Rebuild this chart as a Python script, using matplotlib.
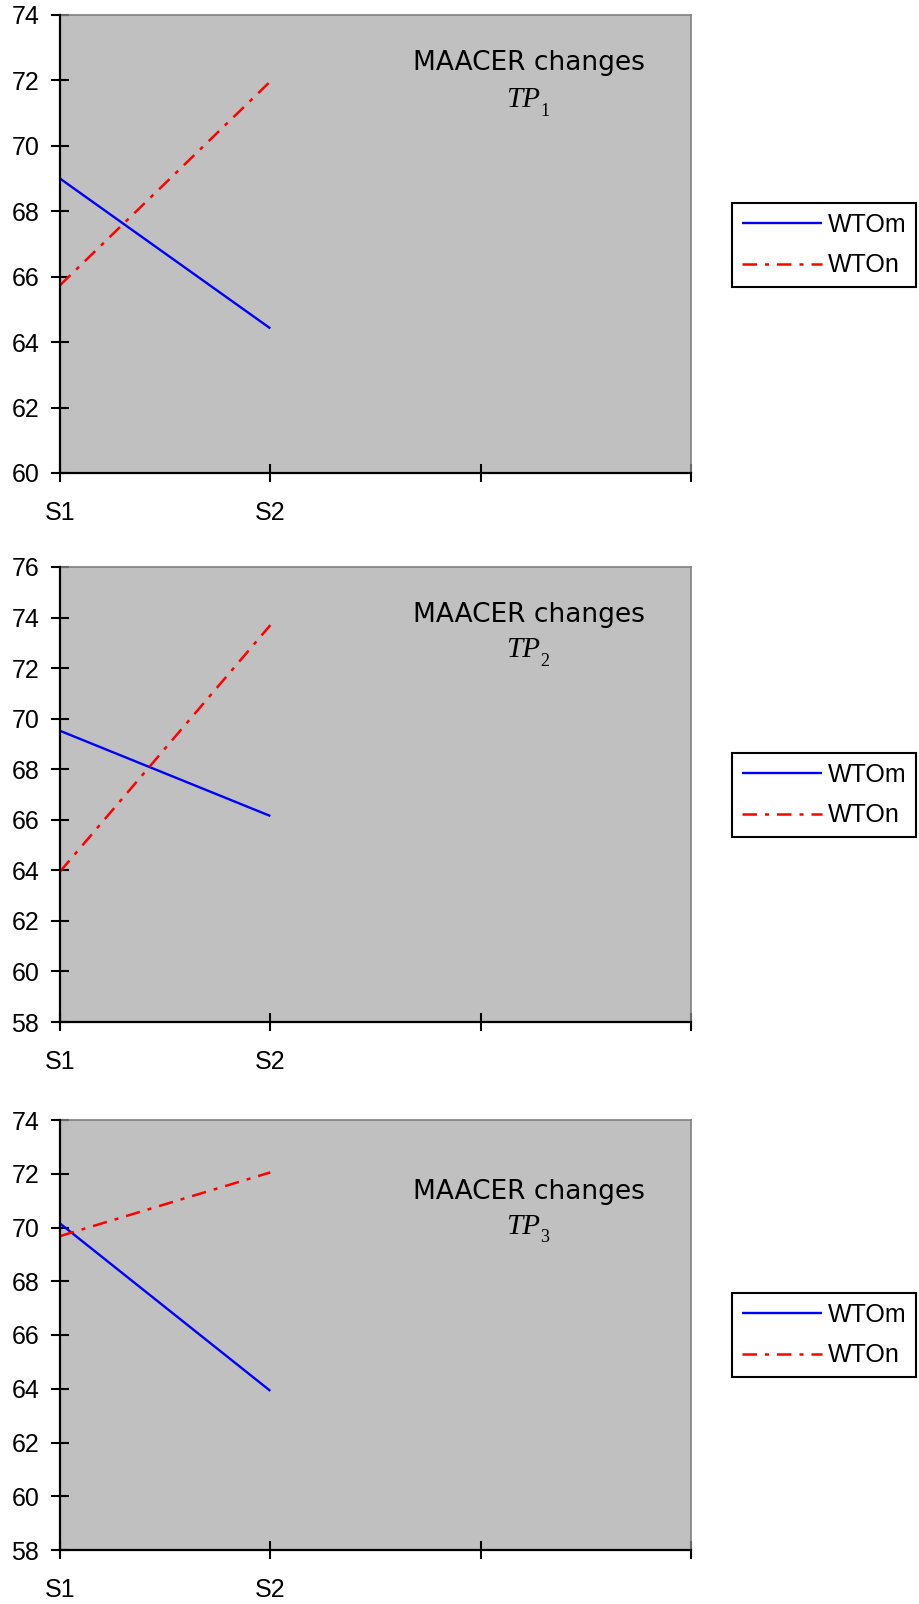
import matplotlib
matplotlib.use('Agg')
import matplotlib.pyplot as plt

plt.rcParams['font.family'] = ['Liberation Sans', 'DejaVu Sans']

# данные
scenarios = ['S1', 'S2']
series_names = ['WTOm', 'WTOn']
wtom_values = [[69.0, 64.42], [69.52, 66.15], [70.15, 63.92]]
wton_values = [[65.74, 71.97], [63.95, 73.7], [69.68, 72.05]]
panel_titles = ['MAACER changes', 'MAACER changes', 'MAACER changes']
panel_subs = ['1', '2', '3']
y_limits = [(60, 74), (58, 76), (58, 74)]

W, H = 919, 1604
fig = plt.figure(figsize=(W / 100, H / 100), dpi=100)

# положения осей в пикселях: (лево, право, верх, низ)
boxes = [(60, 691, 15, 473), (60, 691, 567, 1022), (60, 691, 1120, 1550)]
legend_tops = [203, 753, 1293]
title_y = [63, 615, 1192]
sub_y = [100, 650, 1227]

for k in range(3):
    l, r, t, b = boxes[k]
    ax = fig.add_axes([l / W, 1 - b / H, (r - l) / W, (b - t) / H])
    ax.set_facecolor('#C0C0C0')
    x = list(range(len(scenarios)))
    ax.plot(x, wtom_values[k], color='#0000FF', lw=1.7, label=series_names[0],
            solid_capstyle='butt')
    ax.plot(x, wton_values[k], color='#FF0000', lw=1.8, label=series_names[1],
            linestyle=(0, (5.8, 3.2, 1.6, 3.2)))
    ax.set_xlim(0, 3)
    ax.set_ylim(*y_limits[k])
    ax.set_yticks(range(y_limits[k][0], y_limits[k][1] + 1, 2))
    ax.set_xticks([0, 1, 2, 3])
    ax.set_xticklabels(scenarios + ['', ''])
    ax.tick_params(axis='both', direction='inout', length=13, width=1.5,
                   labelsize=18, colors='black')
    ax.tick_params(axis='x', pad=14)
    ax.tick_params(axis='y', pad=8.5)
    for s in ['left', 'bottom']:
        ax.spines[s].set_linewidth(1.6)
        ax.spines[s].set_color('black')
    for s in ['top', 'right']:
        ax.spines[s].set_linewidth(1.2)
        ax.spines[s].set_color('#808080')
    ax.spines['left'].set_zorder(5)
    ax.spines['bottom'].set_zorder(5)

    fig.text(529 / W, 1 - title_y[k] / H, panel_titles[k], fontsize=19,
             family='DejaVu Sans', ha='center', va='center')
    # TP курсивом, индекс отдельно и меньше
    fig.text(540 / W, 1 - sub_y[k] / H, 'TP', fontsize=21, family='Liberation Serif',
             style='italic', ha='right', va='center')
    fig.text(540 / W, 1 - (sub_y[k] + 11) / H, panel_subs[k], fontsize=13,
             family='Liberation Serif', ha='left', va='center')

    leg = ax.legend(loc='upper left', bbox_to_anchor=(732 / W, 1 - legend_tops[k] / H),
                    bbox_transform=fig.transFigure, borderaxespad=0,
                    fontsize=18, frameon=True, fancybox=False, shadow=False,
                    handlelength=3.2, handletextpad=0.25, labelspacing=0.68,
                    borderpad=0.38, framealpha=1)
    leg.get_frame().set_edgecolor('black')
    leg.get_frame().set_linewidth(1.5)

fig.savefig('out.png', dpi=100)
